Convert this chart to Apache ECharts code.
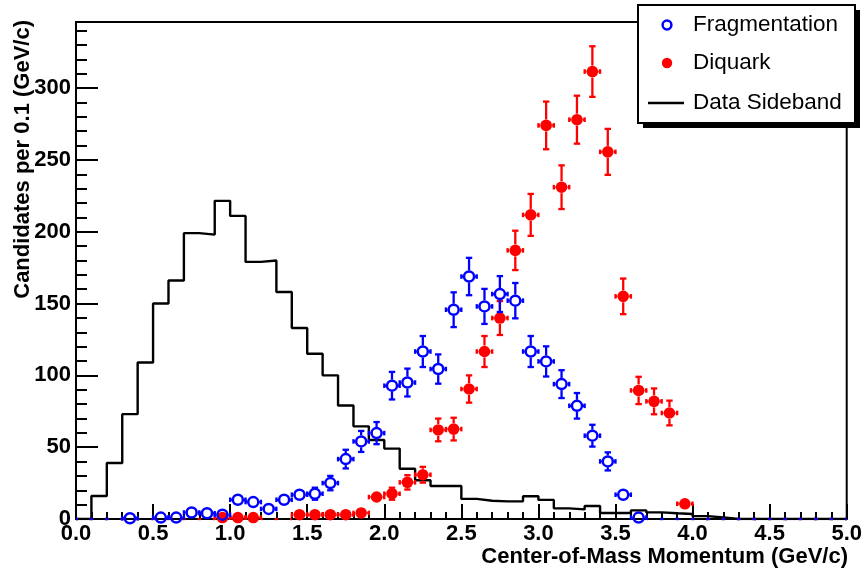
<!DOCTYPE html>
<html>
<head>
<meta charset="utf-8">
<script src="https://cdn.jsdelivr.net/npm/echarts@6/dist/echarts.min.js"></script>
<style>
html,body{margin:0;padding:0;background:#fff;}
#chart{width:865px;height:576px;}
</style>
</head>
<body>
<div id="chart"></div>
<script>
// Bin centres (GeV/c), 0.1 wide bins from 0 to 5
const binCenters = [0.05,0.15,0.25,0.35,0.45,0.55,0.65,0.75,0.85,0.95,
  1.05,1.15,1.25,1.35,1.45,1.55,1.65,1.75,1.85,1.95,
  2.05,2.15,2.25,2.35,2.45,2.55,2.65,2.75,2.85,2.95,
  3.05,3.15,3.25,3.35,3.45,3.55,3.65,3.75,3.85,3.95,
  4.05,4.15,4.25,4.35,4.45,4.55,4.65,4.75,4.85,4.95];
const binLowEdges = [0.0,0.1,0.2,0.3,0.4,0.5,0.6,0.7,0.8,0.9,
  1.0,1.1,1.2,1.3,1.4,1.5,1.6,1.7,1.8,1.9,
  2.0,2.1,2.2,2.3,2.4,2.5,2.6,2.7,2.8,2.9,
  3.0,3.1,3.2,3.3,3.4,3.5,3.6,3.7,3.8,3.9,
  4.0,4.1,4.2,4.3,4.4,4.5,4.6,4.7,4.8,4.9];
const binHalfWidth = 0.05;
const lastEdge = 5.0;

// Fragmentation (blue open circles)
const fragValues = [0,0,0,0.5,0,1,1,4.5,4,3,
  13.4,11.8,7,13.4,16.9,17.6,25,41.7,54,59.8,
  92.8,95,116.6,104.4,145.7,168.8,148,156.6,152,116.6,
  109.7,93.9,78.8,58,40.1,16.9,1,0,0,0,
  0,0,0,0,0,0,0,0,0,0];
const fragErrors = [0,0,0,0.7,0,1,1,2.1,2,1.7,
  3.7,3.4,2.6,3.7,4.1,4.2,5,6.5,7.3,7.7,
  9.6,9.7,10.8,10.2,12.1,13,12.2,12.5,12.3,10.8,
  10.5,9.7,8.9,7.6,6.3,4.1,1,0,0,0,
  0,0,0,0,0,0,0,0,0,0];

// Diquark (red filled circles)
const diqValues = [0,0,0,0,0,0,0,0,0,1,
  1,1,0,0,3,3,3,3,4.2,15.3,
  17.6,25.5,30.8,62,62.6,90.5,116.6,139.9,187,211.7,
  274,231,278,311.5,255.6,155,89.5,81.9,73.8,10.6,
  0,0,0,0,0,0,0,0,0,0];
const diqErrors = [0,0,0,0,0,0,0,0,0,1,
  1,1,0,0,1.7,1.7,1.7,1.7,2,3.9,
  4.2,5,5.5,7.9,7.9,9.5,10.8,11.8,13.7,14.6,
  16.6,15.2,16.7,17.6,16,12.4,9.5,9,8.6,3.3,
  0,0,0,0,0,0,0,0,0,0];

// Data Sideband histogram contents (per bin)
const sidebandValues = [0,16,39,73,109,150,166,199,198,221.5,
  211,179,180,158,133,115,100,79,64.5,55,
  49,35,27,23,23,14,12.7,12.3,12.3,15.8,
  13.3,7.4,6.7,9,4.2,4.2,6,4.6,4,3.5,
  2,1,0,0,0,0,0,0,0,0];

// Axis ticks
const xTickLabels = ['0.0','0.5','1.0','1.5','2.0','2.5','3.0','3.5','4.0','4.5','5.0'];
const yTickLabels = ['0','50','100','150','200','250','300'];

const legendNames = ['Fragmentation','Diquark','Data Sideband'];

const FONT = "'Liberation Sans', Arial, Helvetica, sans-serif";

function errData(vals, errs) {
  return binCenters.map((c, i) => [c, vals[i], binHalfWidth, errs[i]]);
}

function makeRender(color, filled) {
  return function (params, api) {
    const x = api.value(0), y = api.value(1), ex = api.value(2), ey = api.value(3);
    const c = api.coord([x, y]);
    const l = api.coord([x - ex, y]);
    const r = api.coord([x + ex, y]);
    const lo = api.coord([x, Math.max(0, y - ey)]);
    const hi = api.coord([x, y + ey]);
    const R = 6;
    const st = { stroke: color, lineWidth: 2.3, fill: null };
    const ch = [];
    const showMarker = y > 0;
    const gap = R;
    // horizontal error bar (stops at the marker edge)
    ch.push({ type: 'line', shape: { x1: l[0], y1: c[1], x2: c[0] - gap, y2: c[1] }, style: st });
    ch.push({ type: 'line', shape: { x1: c[0] + gap, y1: c[1], x2: r[0], y2: c[1] }, style: st });
    if (showMarker) {
      ch.push({ type: 'line', shape: { x1: l[0], y1: c[1] - 2.3, x2: l[0], y2: c[1] + 2.3 }, style: st });
      ch.push({ type: 'line', shape: { x1: r[0], y1: c[1] - 2.3, x2: r[0], y2: c[1] + 2.3 }, style: st });
    }
    if (ey > 0 && showMarker) {
      if (hi[1] < c[1] - gap) {
        ch.push({ type: 'line', shape: { x1: c[0], y1: c[1] - gap, x2: c[0], y2: hi[1] }, style: st });
        ch.push({ type: 'line', shape: { x1: c[0] - 3.2, y1: hi[1], x2: c[0] + 3.2, y2: hi[1] }, style: st });
      }
      if (lo[1] > c[1] + gap) {
        ch.push({ type: 'line', shape: { x1: c[0], y1: c[1] + gap, x2: c[0], y2: lo[1] }, style: st });
        if (y - ey > 0) {
          ch.push({ type: 'line', shape: { x1: c[0] - 3.2, y1: lo[1], x2: c[0] + 3.2, y2: lo[1] }, style: st });
        }
      }
    }
    if (showMarker) {
      if (filled) {
        ch.push({ type: 'circle', shape: { cx: c[0], cy: c[1], r: 5.8 }, style: { fill: color } });
      } else {
        ch.push({ type: 'circle', shape: { cx: c[0], cy: c[1], r: 5 }, style: { fill: null, stroke: color, lineWidth: 2.5 } });
      }
    }
    return { type: 'group', children: ch };
  };
}

const histData = binLowEdges.map((e, i) => [e, sidebandValues[i]]);
histData.push([lastEdge, sidebandValues[sidebandValues.length - 1]]);

const chart = echarts.init(document.getElementById('chart'), null, { renderer: 'canvas' });

const labelStyle = { color: '#000', fontFamily: FONT, fontWeight: 'bold', fontSize: 22 };

chart.setOption({
  animation: false,
  backgroundColor: '#fff',
  grid: { left: 76, top: 22, right: 16, bottom: 57, show: true, borderColor: '#000', borderWidth: 2, backgroundColor: 'transparent' },
  xAxis: {
    type: 'value', min: 0, max: 5, interval: 0.5,
    axisLine: { show: true, onZero: false, lineStyle: { color: '#000', width: 2 } },
    axisTick: { show: true, inside: true, length: 15, lineStyle: { color: '#000', width: 2 } },
    minorTick: { show: true, splitNumber: 5, length: 7, lineStyle: { color: '#000', width: 2 } },
    splitLine: { show: false },
    axisLabel: Object.assign({ margin: 4, formatter: v => xTickLabels[Math.round(v / 0.5)] || '' }, labelStyle)
  },
  yAxis: [{
    type: 'value', min: 0, max: 346, interval: 50,
    axisLine: { show: true, onZero: false, lineStyle: { color: '#000', width: 2 } },
    axisTick: { show: true, inside: true, length: 22, lineStyle: { color: '#000', width: 2 } },
    splitLine: { show: false },
    axisLabel: Object.assign({ margin: 5, showMaxLabel: false, formatter: v => (v % 50 === 0 ? (yTickLabels[v / 50] || '') : '') }, labelStyle)
  }, {
    type: 'value', min: 0, max: 346, interval: 10, position: 'left',
    axisLine: { show: false },
    axisTick: { show: true, inside: true, length: 11, lineStyle: { color: '#000', width: 2 } },
    splitLine: { show: false },
    axisLabel: { show: false }
  }],
  series: [{
    name: legendNames[2],
    type: 'line', step: 'end', data: histData, symbol: 'none', yAxisIndex: 0,
    lineStyle: { color: '#000', width: 2.4 }, z: 2
  }, {
    name: legendNames[1],
    type: 'custom', data: errData(diqValues, diqErrors), renderItem: makeRender('#ff0000', true),
    encode: { x: 0, y: 1 }, clip: false, z: 3
  }, {
    name: legendNames[0],
    type: 'custom', data: errData(fragValues, fragErrors), renderItem: makeRender('#0000ff', false),
    encode: { x: 0, y: 1 }, clip: false, z: 4
  }],
  graphic: [
    { type: 'text', x: 848, y: 557, z: 10,
      style: { text: 'Center-of-Mass Momentum (GeV/c)', fill: '#000', font: "bold 22px " + FONT, textAlign: 'right', textVerticalAlign: 'middle' } },
    { type: 'text', x: 23, y: 20, rotation: Math.PI / 2, z: 10,
      style: { text: 'Candidates per 0.1 (GeV/c)', fill: '#000', font: "bold 22px " + FONT, textAlign: 'right', textVerticalAlign: 'middle' } },
    // legend box with shadow
    { type: 'rect', shape: { x: 643, y: 10, width: 217, height: 118 }, style: { fill: '#000' }, z: 20 },
    { type: 'rect', shape: { x: 638, y: 5, width: 217, height: 118 }, style: { fill: '#fff', stroke: '#000', lineWidth: 2 }, z: 21 },
    { type: 'circle', shape: { cx: 667, cy: 25, r: 4.4 }, style: { fill: null, stroke: '#0000ff', lineWidth: 2.5 }, z: 22 },
    { type: 'circle', shape: { cx: 667, cy: 63, r: 5.2 }, style: { fill: '#ff0000' }, z: 22 },
    { type: 'line', shape: { x1: 648, y1: 103, x2: 684, y2: 103 }, style: { stroke: '#000', lineWidth: 2.4 }, z: 22 },
    { type: 'text', x: 693, y: 25, z: 22, style: { text: legendNames[0], fill: '#000', font: "22.5px " + FONT, textAlign: 'left', textVerticalAlign: 'middle' } },
    { type: 'text', x: 693, y: 63, z: 22, style: { text: legendNames[1], fill: '#000', font: "22.5px " + FONT, textAlign: 'left', textVerticalAlign: 'middle' } },
    { type: 'text', x: 693, y: 103, z: 22, style: { text: legendNames[2], fill: '#000', font: "22.5px " + FONT, textAlign: 'left', textVerticalAlign: 'middle' } }
  ]
});
</script>
</body>
</html>
